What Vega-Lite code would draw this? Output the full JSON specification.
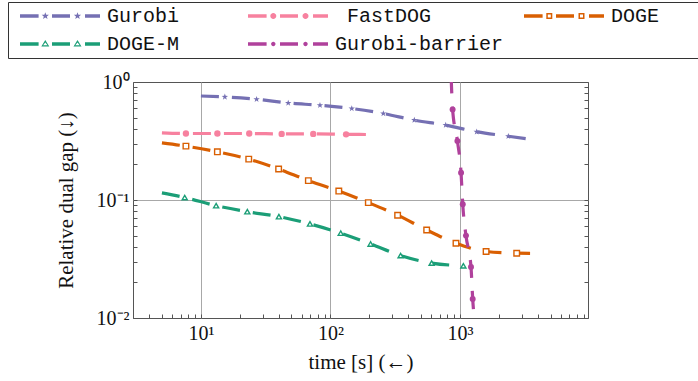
{
  "$schema": "https://vega.github.io/schema/vega-lite/v6.json",
  "autosize": {"type": "none"},
  "width": 455,
  "height": 236,
  "padding": {"left": 133, "top": 82, "right": 110, "bottom": 63},
  "background": "white",
  "config": {
    "view": {"stroke": "#555", "strokeWidth": 1},
    "legend": {
      "columns": 3, "direction": "horizontal", "columnPadding": 12, "rowPadding": 8, "padding": 4,
      "strokeColor": "#333", "fillColor": "white",
      "labelFont": "Liberation Mono", "labelFontSize": 20, "labelColor": "#111", "labelLimit": 400,
      "symbolSize": 400, "symbolStrokeWidth": 0, "symbolOffset": 38, "labelOffset": 37, "symbolOpacity": 1
    }
  },
  "datasets": {
    "curves": [
      {"series": "Gurobi", "time": 10, "gap": 0.761},
      {"series": "Gurobi", "time": 15.3, "gap": 0.747},
      {"series": "Gurobi", "time": 26.9, "gap": 0.714},
      {"series": "Gurobi", "time": 47.2, "gap": 0.664},
      {"series": "Gurobi", "time": 83, "gap": 0.635},
      {"series": "Gurobi", "time": 146, "gap": 0.596},
      {"series": "Gurobi", "time": 256, "gap": 0.541},
      {"series": "Gurobi", "time": 444, "gap": 0.475},
      {"series": "Gurobi", "time": 776, "gap": 0.431},
      {"series": "Gurobi", "time": 1346, "gap": 0.378},
      {"series": "Gurobi", "time": 2361, "gap": 0.347},
      {"series": "Gurobi", "time": 3475, "gap": 0.328},
      {"series": "FastDOG", "time": 5, "gap": 0.371},
      {"series": "FastDOG", "time": 7.66, "gap": 0.366},
      {"series": "FastDOG", "time": 13.4, "gap": 0.366},
      {"series": "FastDOG", "time": 23.6, "gap": 0.366},
      {"series": "FastDOG", "time": 42, "gap": 0.363},
      {"series": "FastDOG", "time": 73.6, "gap": 0.363},
      {"series": "FastDOG", "time": 132, "gap": 0.36},
      {"series": "FastDOG", "time": 202, "gap": 0.359},
      {"series": "DOGE", "time": 5, "gap": 0.305},
      {"series": "DOGE", "time": 7.66, "gap": 0.286},
      {"series": "DOGE", "time": 13.4, "gap": 0.256},
      {"series": "DOGE", "time": 23.4, "gap": 0.222},
      {"series": "DOGE", "time": 39.8, "gap": 0.183},
      {"series": "DOGE", "time": 67.5, "gap": 0.146},
      {"series": "DOGE", "time": 116, "gap": 0.119},
      {"series": "DOGE", "time": 196, "gap": 0.095},
      {"series": "DOGE", "time": 330, "gap": 0.0743},
      {"series": "DOGE", "time": 553, "gap": 0.0557},
      {"series": "DOGE", "time": 931, "gap": 0.043},
      {"series": "DOGE", "time": 1590, "gap": 0.0366},
      {"series": "DOGE", "time": 2740, "gap": 0.0354},
      {"series": "DOGE", "time": 3475, "gap": 0.0353},
      {"series": "DOGE-M", "time": 5, "gap": 0.115},
      {"series": "DOGE-M", "time": 7.5, "gap": 0.105},
      {"series": "DOGE-M", "time": 13.1, "gap": 0.0895},
      {"series": "DOGE-M", "time": 22.8, "gap": 0.0796},
      {"series": "DOGE-M", "time": 40, "gap": 0.0723},
      {"series": "DOGE-M", "time": 69.5, "gap": 0.0627},
      {"series": "DOGE-M", "time": 120, "gap": 0.0523},
      {"series": "DOGE-M", "time": 204, "gap": 0.0424},
      {"series": "DOGE-M", "time": 348, "gap": 0.0338},
      {"series": "DOGE-M", "time": 604, "gap": 0.0292},
      {"series": "DOGE-M", "time": 1062, "gap": 0.0277},
      {"series": "Gurobi-barrier", "time": 853, "gap": 1.14},
      {"series": "Gurobi-barrier", "time": 877, "gap": 0.585},
      {"series": "Gurobi-barrier", "time": 955, "gap": 0.317},
      {"series": "Gurobi-barrier", "time": 1019, "gap": 0.17},
      {"series": "Gurobi-barrier", "time": 1050, "gap": 0.092},
      {"series": "Gurobi-barrier", "time": 1112, "gap": 0.0499},
      {"series": "Gurobi-barrier", "time": 1216, "gap": 0.027},
      {"series": "Gurobi-barrier", "time": 1253, "gap": 0.0145},
      {"series": "Gurobi-barrier", "time": 1306, "gap": 0.00877}
    ]
  },
  "data": {"name": "curves"},
  "resolve": {"scale": {"shape": "independent", "color": "independent"}, "axis": {"y": "independent"}},
  "layer": [
    {
      "mark": {"type": "line", "clip": true, "strokeWidth": 3.2, "strokeDash": [18, 13], "interpolate": "monotone"},
      "encoding": {
        "x": {
          "field": "time", "type": "quantitative",
          "scale": {"type": "log", "domain": [2.99, 9730], "nice": false},
          "axis": {
            "values": [3,4,5,6,7,8,9,10,20,30,40,50,60,70,80,90,100,200,300,400,500,600,700,800,900,1000,2000,3000,4000,5000,6000,7000,8000,9000],
            "labelExpr": "datum.value == 10 ? '10¹' : datum.value == 100 ? '10²' : datum.value == 1000 ? '10³' : ''",
            "grid": true, "gridColor": "#a8a8a8", "gridWidth": 1,
            "gridOpacity": {"condition": {"test": "datum.value == 10 || datum.value == 100 || datum.value == 1000", "value": 1}, "value": 0},
            "domain": false, "tickSize": -4, "tickColor": "#555",
            "labelFont": "Liberation Serif", "labelFontSize": 20, "labelColor": "#111", "labelPadding": 9,
            "title": "time [s] (←)", "titleFont": "Liberation Serif", "titleFontSize": 21, "titleFontWeight": "normal", "titleColor": "#111", "titlePadding": 8
          }
        },
        "y": {
          "field": "gap", "type": "quantitative",
          "scale": {"type": "log", "domain": [0.01, 1], "nice": false},
          "axis": {
            "values": [0.01,0.02,0.03,0.04,0.05,0.06,0.07,0.08,0.09,0.1,0.2,0.3,0.4,0.5,0.6,0.7,0.8,0.9,1],
            "labelExpr": "datum.value == 1 ? '10⁰' : datum.value == 0.1 ? '10⁻¹' : datum.value == 0.01 ? '10⁻²' : ''",
            "grid": true, "gridColor": "#a8a8a8", "gridWidth": 1,
            "gridOpacity": {"condition": {"test": "datum.value == 0.1", "value": 1}, "value": 0},
            "domain": false, "tickSize": -4, "tickColor": "#555",
            "labelFont": "Liberation Serif", "labelFontSize": 20, "labelColor": "#111", "labelPadding": 8,
            "title": "Relative dual gap (↓)", "titleFont": "Liberation Serif", "titleFontSize": 21, "titleFontWeight": "normal", "titleColor": "#111", "titlePadding": 20
          }
        },
        "color": {
          "field": "series", "type": "nominal", "legend": null,
          "scale": {"domain": ["Gurobi", "FastDOG", "DOGE", "DOGE-M", "Gurobi-barrier"], "range": ["#7570b3", "#f7819f", "#d95f02", "#1b9e77", "#b0419c"]}
        }
      }
    },
    {
      "transform": [
        {"window": [{"op": "row_number", "as": "i"}, {"op": "count", "as": "n"}], "groupby": ["series"], "sort": [{"field": "time"}], "frame": [null, null]},
        {"filter": "datum.i > 1 && (datum.i < datum.n || datum.series == 'DOGE-M')"},
        {"filter": "datum.series == 'Gurobi' || datum.series == 'FastDOG' || datum.series == 'Gurobi-barrier'"}
      ],
      "mark": {"type": "point", "filled": true, "clip": true, "opacity": 1},
      "encoding": {
        "x": {"field": "time", "type": "quantitative"},
        "y": {"field": "gap", "type": "quantitative", "axis": {"orient": "right", "values": [0.01,0.02,0.03,0.04,0.05,0.06,0.07,0.08,0.09,0.1,0.2,0.3,0.4,0.5,0.6,0.7,0.8,0.9,1], "labels": false, "grid": false, "domain": false, "tickSize": -4, "tickColor": "#555", "title": null}},
        "color": {"field": "series", "type": "nominal", "legend": null,
          "scale": {"domain": ["Gurobi", "FastDOG", "Gurobi-barrier"], "range": ["#7570b3", "#f7819f", "#b0419c"]}},
        "shape": {"field": "series", "type": "nominal", "legend": null,
          "scale": {"domain": ["Gurobi", "FastDOG", "Gurobi-barrier"], "range": ["M0,-1L0.235,-0.324L0.951,-0.309L0.38,0.124L0.588,0.809L0,0.4L-0.588,0.809L-0.38,0.124L-0.951,-0.309L-0.235,-0.324Z", "circle", "circle"]}},
        "size": {"field": "series", "type": "nominal", "legend": null,
          "scale": {"domain": ["Gurobi", "FastDOG", "Gurobi-barrier"], "range": [45, 26, 13]}}
      }
    },
    {
      "transform": [
        {"window": [{"op": "row_number", "as": "i"}, {"op": "count", "as": "n"}], "groupby": ["series"], "sort": [{"field": "time"}], "frame": [null, null]},
        {"filter": "datum.i > 1 && (datum.i < datum.n || datum.series == 'DOGE-M')"},
        {"filter": "datum.series == 'DOGE' || datum.series == 'DOGE-M'"}
      ],
      "mark": {"type": "point", "filled": false, "fill": "white", "fillOpacity": 1, "strokeWidth": 1.4, "clip": true, "opacity": 1},
      "encoding": {
        "x": {"field": "time", "type": "quantitative"},
        "y": {"field": "gap", "type": "quantitative", "axis": null},
        "color": {"field": "series", "type": "nominal", "legend": null,
          "scale": {"domain": ["DOGE", "DOGE-M"], "range": ["#d95f02", "#1b9e77"]}},
        "shape": {"field": "series", "type": "nominal", "legend": null,
          "scale": {"domain": ["DOGE", "DOGE-M"], "range": ["square", "triangle-up"]}},
        "size": {"field": "series", "type": "nominal", "legend": null,
          "scale": {"domain": ["DOGE", "DOGE-M"], "range": [26, 34]}}
      }
    },
    {
      "transform": [{"filter": "datum.gap > 100"}],
      "mark": {"type": "point", "filled": true, "opacity": 1},
      "encoding": {
        "x": {"field": "time", "type": "quantitative"},
        "y": {"field": "gap", "type": "quantitative", "axis": null},
        "color": {"field": "series", "type": "nominal",
          "legend": {"title": null, "orient": "none", "legendX": -125, "legendY": -80, "symbolOpacity": 1,
            "labelExpr": "datum.label == 'Gurobi' ? 'Gurobi\u00a0\u00a0\u00a0\u00a0\u200b' : datum.label == 'DOGE-M' ? 'DOGE-M\u00a0\u00a0\u00a0\u00a0\u200b' : datum.label == 'FastDOG' ? '\u200b\u00a0FastDOG' : datum.label == 'DOGE' ? 'DOGE\u00a0\u00a0\u00a0\u200b' : datum.label"},
          "scale": {"domain": ["Gurobi", "FastDOG", "DOGE", "DOGE-M", "Gurobi-barrier"], "range": ["#7570b3", "#f7819f", "#d95f02", "#1b9e77", "#b0419c"]}},
        "shape": {"field": "series", "type": "nominal",
          "legend": {"title": null, "orient": "none", "legendX": -125, "legendY": -80, "symbolOpacity": 1,
            "labelExpr": "datum.label == 'Gurobi' ? 'Gurobi\u00a0\u00a0\u00a0\u00a0\u200b' : datum.label == 'DOGE-M' ? 'DOGE-M\u00a0\u00a0\u00a0\u00a0\u200b' : datum.label == 'FastDOG' ? '\u200b\u00a0FastDOG' : datum.label == 'DOGE' ? 'DOGE\u00a0\u00a0\u00a0\u200b' : datum.label"},
          "scale": {"domain": ["Gurobi", "FastDOG", "DOGE", "DOGE-M", "Gurobi-barrier"], "range": [
            "M-4,-0.17H-2.14V0.17H-4Z M-0.8,-0.17H1V0.17H-0.8Z M2.5,-0.17H4V0.17H2.5Z M-1.47,-0.38l0.094,0.251l0.267,0.012l-0.209,0.166l0.071,0.258l-0.223,-0.147l-0.223,0.147l0.071,-0.258l-0.209,-0.166l0.267,-0.012Z M1.75,-0.38l0.094,0.251l0.267,0.012l-0.209,0.166l0.071,0.258l-0.223,-0.147l-0.223,0.147l0.071,-0.258l-0.209,-0.166l0.267,-0.012Z",
            "M-4,-0.17H-2.14V0.17H-4Z M-0.8,-0.17H1V0.17H-0.8Z M2.5,-0.17H4V0.17H2.5Z M-1.77,0a0.3,0.3 0 1,0 0.6,0a0.3,0.3 0 1,0 -0.6,0Z M1.45,0a0.3,0.3 0 1,0 0.6,0a0.3,0.3 0 1,0 -0.6,0Z",
            "M-4,-0.17H-2.14V0.17H-4Z M-0.8,-0.17H1V0.17H-0.8Z M2.5,-0.17H4V0.17H2.5Z M-1.77,-0.3h0.6v0.6h-0.6Z M-1.62,-0.15v0.3h0.3v-0.3Z M1.45,-0.3h0.6v0.6h-0.6Z M1.6,-0.15v0.3h0.3v-0.3Z",
            "M-4,-0.17H-2.14V0.17H-4Z M-0.8,-0.17H1V0.17H-0.8Z M2.5,-0.17H4V0.17H2.5Z M-1.47,-0.4l0.4,0.65h-0.8Z M-1.47,-0.14l-0.22,0.26h0.44Z M1.75,-0.4l0.4,0.65h-0.8Z M1.75,-0.14l-0.22,0.26h0.44Z",
            "M-4,-0.17H-2.14V0.17H-4Z M-0.8,-0.17H1V0.17H-0.8Z M2.5,-0.17H4V0.17H2.5Z M-1.69,0a0.22,0.22 0 1,0 0.44,0a0.22,0.22 0 1,0 -0.44,0Z M1.53,0a0.22,0.22 0 1,0 0.44,0a0.22,0.22 0 1,0 -0.44,0Z"
          ]}}
      }
    }
  ]
}
